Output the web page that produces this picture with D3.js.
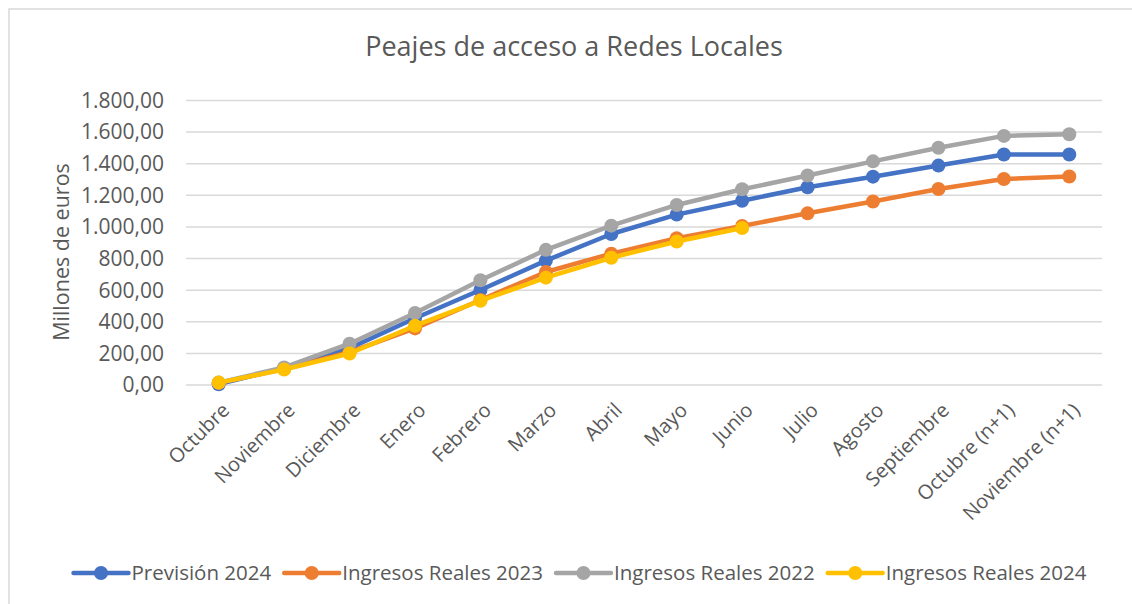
<!DOCTYPE html>
<html lang="es">
<head>
<meta charset="UTF-8">
<title>Peajes de acceso a Redes Locales</title>
<style>
  body { margin: 0; background: #fff; }
  svg text { font-family: "Open Sans", sans-serif; fill: #595959; }
</style>
</head>
<body>
<div id="chart"></div>
<script src="https://d3js.org/d3.v7.min.js"></script>
<script>
var months = ["Octubre", "Noviembre", "Diciembre", "Enero", "Febrero", "Marzo", "Abril",
  "Mayo", "Junio", "Julio", "Agosto", "Septiembre", "Octubre (n+1)", "Noviembre (n+1)"];

var prevision2024 = [2, 105, 229, 419, 598, 784, 952, 1075, 1163, 1248, 1315, 1385, 1455, 1455];
var reales2023    = [10, 98, 205, 355, 535, 712, 828, 925, 1003, 1083, 1158, 1237, 1300, 1316];
var reales2022    = [12, 108, 258, 452, 660, 852, 1005, 1136, 1235, 1322, 1412, 1498, 1573, 1583];
var reales2024    = [12, 95, 196, 372, 530, 676, 802, 905, 990];

var yTicks = [0, 200, 400, 600, 800, 1000, 1200, 1400, 1600, 1800];

var series = [
  { name: "Previsión 2024", values: prevision2024, color: "#4472C4" },
  { name: "Ingresos Reales 2023", values: reales2023, color: "#ED7D31" },
  { name: "Ingresos Reales 2022", values: reales2022, color: "#A5A5A5" },
  { name: "Ingresos Reales 2024", values: reales2024, color: "#FFC000" }
];

var W = 1132, H = 604;
var margin = { top: 100, right: 30, bottom: 219.5, left: 186 };

var svg = d3.select("#chart").append("svg")
  .attr("width", W)
  .attr("height", H);

// chart frame
svg.append("rect")
  .attr("x", 9).attr("y", 9)
  .attr("width", W + 20).attr("height", H + 20)
  .attr("fill", "none")
  .attr("stroke", "#D9D9D9")
  .attr("stroke-width", 1.5);

var x = d3.scaleBand()
  .domain(months)
  .range([margin.left, 1102]);

var y = d3.scaleLinear()
  .domain([0, 1800])
  .range([H - margin.bottom, margin.top]);

var fmt = d3.formatLocale({ decimal: ",", thousands: ".", grouping: [3], currency: ["", "€"] }).format(",.2f");

// gridlines
svg.append("g")
  .attr("transform", "translate(" + margin.left + ",0)")
  .call(d3.axisLeft(y).tickValues(yTicks).tickSize(-(1102 - margin.left)).tickFormat(""))
  .call(function (g) {
    g.select(".domain").remove();
    g.selectAll("line").attr("stroke", "#D9D9D9").attr("stroke-width", 1.5);
  });

// y tick labels
svg.append("g")
  .attr("transform", "translate(" + (margin.left - 22) + ",0)")
  .call(d3.axisLeft(y).tickValues(yTicks).tickSize(0).tickFormat(fmt))
  .call(function (g) {
    g.select(".domain").remove();
    g.selectAll("text").attr("font-size", 21).attr("fill", "#595959")
      .attr("font-family", "Open Sans, sans-serif").attr("x", 0).attr("dy", "0.35em");
  });

// x labels
svg.append("g")
  .attr("transform", "translate(0," + (H - margin.bottom) + ")")
  .call(d3.axisBottom(x).tickSize(0))
  .call(function (g) {
    g.select(".domain").remove();
    g.selectAll("text")
      .attr("font-size", 20)
      .attr("fill", "#595959")
      .attr("font-family", "Open Sans, sans-serif")
      .attr("text-anchor", "end")
      .attr("x", 0).attr("y", 0).attr("dy", 0)
      .attr("transform", "translate(12,27) rotate(-45)");
  });

// title
svg.append("text")
  .attr("x", 574).attr("y", 56)
  .attr("text-anchor", "middle")
  .attr("font-size", 27)
  .text("Peajes de acceso a Redes Locales");

// y axis title
svg.append("text")
  .attr("transform", "translate(69,252) rotate(-90)")
  .attr("text-anchor", "middle")
  .attr("font-size", 21.5)
  .text("Millones de euros");

var line = d3.line()
  .x(function (d, i) { return x(months[i]) + x.bandwidth() / 2; })
  .y(function (d) { return y(d); });

series.forEach(function (s) {
  var g = svg.append("g");
  g.append("path")
    .datum(s.values)
    .attr("d", line)
    .attr("fill", "none")
    .attr("stroke", s.color)
    .attr("stroke-width", 4.5)
    .attr("stroke-linejoin", "round")
    .attr("stroke-linecap", "round");
  g.selectAll("circle")
    .data(s.values)
    .enter().append("circle")
    .attr("cx", function (d, i) { return x(months[i]) + x.bandwidth() / 2; })
    .attr("cy", function (d) { return y(d); })
    .attr("r", 7)
    .attr("fill", s.color);
});

// legend
var legend = svg.append("g").attr("transform", "translate(0,573)");
var items = legend.selectAll("g.item").data(series).enter().append("g").attr("class", "item");
items.append("line")
  .attr("x1", 0).attr("x2", 55)
  .attr("stroke", function (d) { return d.color; })
  .attr("stroke-width", 4.5)
  .attr("stroke-linecap", "round");
items.append("circle")
  .attr("cx", 27.5).attr("r", 7)
  .attr("fill", function (d) { return d.color; });
items.append("text")
  .attr("x", 58).attr("dy", "0.35em")
  .attr("font-size", 20.5)
  .text(function (d) { return d.name; });

var pos = 0, offsets = [];
items.each(function () {
  offsets.push(pos);
  pos += 58 + d3.select(this).select("text").node().getComputedTextLength() + 13;
});
var total = pos - 13;
var start = 580 - total / 2;
items.attr("transform", function (d, i) { return "translate(" + (start + offsets[i]) + ",0)"; });
</script>
</body>
</html>
